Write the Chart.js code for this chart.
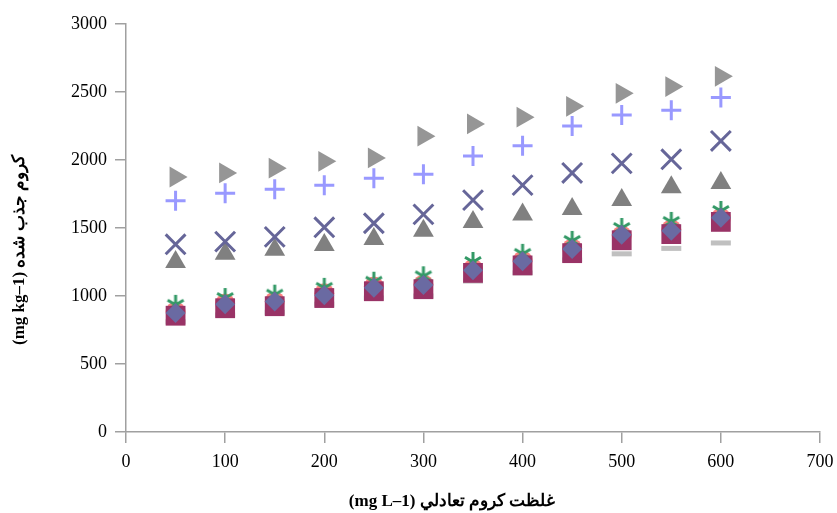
<!DOCTYPE html>
<html><head><meta charset="utf-8">
<script src="https://cdn.jsdelivr.net/npm/chart.js@4/dist/chart.umd.min.js"></script>
<style>html,body{margin:0;padding:0;background:#fff;}canvas{display:block;}</style>
</head><body>
<canvas id="c" width="837" height="513"></canvas>
<script>
const xValues = [50,100,150,200,250,300,350,400,450,500,550,600];
const seriesRightTri = [1875,1905,1940,1990,2015,2175,2265,2315,2395,2490,2540,2615];
const seriesPlus     = [1700,1755,1785,1815,1865,1895,2030,2105,2250,2330,2365,2460];
const seriesX        = [1380,1400,1435,1505,1535,1600,1705,1815,1905,1975,2005,2140];
const seriesTri      = [1250,1310,1340,1375,1420,1480,1545,1600,1640,1705,1800,1830];
const seriesStar     = [935,985,1010,1060,1105,1145,1250,1310,1405,1500,1545,1625];
const seriesCircle   = [885,945,960,1020,1070,1085,1200,1260,1350,1445,1490,1575];
const seriesSquare   = [855,910,925,985,1035,1050,1170,1225,1315,1410,1455,1545];
const seriesDiamond  = [875,940,960,1005,1060,1080,1190,1255,1345,1450,1480,1575];
const seriesDash     = [810,860,880,940,985,1000,1110,1170,1265,1310,1350,1390];
const xTitle = '\u202Bغلظت کروم تعادلي (mg L\u20131)\u202C';
const yTitle = '\u202Bکروم جذب شده (mg kg\u20131)\u202C';

// custom Excel-like star marker (vertical + two diagonals)
function makeStar(color, size, lw){
  const c = document.createElement('canvas');
  c.width = size; c.height = size;
  const g = c.getContext('2d');
  const m = size/2, r = size/2 - 1;
  g.strokeStyle = color; g.lineWidth = lw; g.lineCap = 'butt';
  g.beginPath();
  g.moveTo(m, m - r); g.lineTo(m, m + r);
  const d = r * 0.8;
  g.moveTo(m - d, m - d*0.6); g.lineTo(m + d, m + d*0.6);
  g.moveTo(m + d, m - d*0.6); g.lineTo(m - d, m + d*0.6);
  g.stroke();
  return c;
}
const starImg = makeStar('#339966', 22, 3);

function pts(vals){ return xValues.map((x,i)=>({x:x,y:vals[i]})); }
function ds(label, vals, style, color, r, extra){
  return Object.assign({label:label, data:pts(vals), pointStyle:style, pointRadius:r, pointHoverRadius:r,
    backgroundColor:color, borderColor:color, borderWidth:0, showLine:false}, extra||{});
}
const serif = "'Liberation Serif','Times New Roman','DejaVu Serif',serif";
const axisColor = '#A0A0A0';

const titlePlugin = {
  id:'titles',
  afterDraw(chart){
    const ctx = chart.ctx;
    ctx.save();
    ctx.fillStyle = '#000';
    ctx.font = "bold 17px " + serif;
    ctx.textAlign = 'center';
    ctx.textBaseline = 'middle';
    ctx.fillText(xTitle, 452, 502);
    ctx.translate(20, 250);
    ctx.rotate(-Math.PI/2);
    ctx.fillText(yTitle, 0, 0);
    ctx.restore();
  }
};

new Chart(document.getElementById('c'), {
  type:'scatter',
  data:{datasets:[
    ds('diamond', seriesDiamond, 'rectRot', '#6A6AA2', 10),
    ds('square', seriesSquare, 'rect', '#993366', 14),
    ds('star', seriesStar, starImg, '#339966', 11),
    ds('circle', seriesCircle, 'circle', '#FF8080', 10),
    ds('dash', seriesDash, 'line', '#C0C0C0', 10, {borderWidth:5}),
    ds('x', seriesX, 'crossRot', '#666699', 14, {borderWidth:3}),
    ds('tri', seriesTri, 'triangle', '#808080', 12),
    ds('plus', seriesPlus, 'cross', '#9999FF', 10, {borderWidth:3}),
    ds('rtri', seriesRightTri, 'triangle', '#969696', 12, {pointRotation:90})
  ]},
  options:{
    responsive:false, animation:false,
    layout:{padding:{left:0,right:17,top:24,bottom:0}},
    plugins:{legend:{display:false}, tooltip:{enabled:false}},
    scales:{
      x:{type:'linear', min:0, max:700,
        ticks:{stepSize:100, color:'#000', font:{family:serif, size:18}, padding:8, maxRotation:0,
          callback:(v)=>String(v)},
        grid:{drawOnChartArea:false, drawTicks:true, tickLength:11, color:axisColor, lineWidth:1.5},
        border:{display:true, color:axisColor, width:1.5},
        afterFit:(s)=>{s.height=81; s.paddingRight=0; s.paddingLeft=0;}
      },
      y:{min:0, max:3000,
        ticks:{stepSize:500, color:'#000', font:{family:serif, size:18}, padding:8,
          callback:(v)=>String(v)},
        grid:{drawOnChartArea:false, drawTicks:true, tickLength:11, color:axisColor, lineWidth:1.5},
        border:{display:true, color:axisColor, width:1.5},
        afterFit:(s)=>{s.width=126; s.paddingTop=0; s.paddingBottom=0;}
      }
    }
  },
  plugins:[titlePlugin]
});
</script>
</body></html>
